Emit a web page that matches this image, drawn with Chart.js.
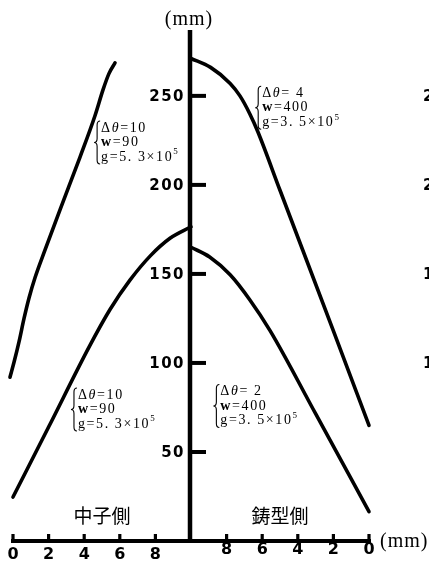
<!DOCTYPE html>
<html lang="ja">
<head>
<meta charset="utf-8">
<title>中子側・鋳型側</title>
<script src="https://cdn.jsdelivr.net/npm/chart.js@4/dist/chart.umd.min.js"></script>
<style>
    html, body { margin: 0; padding: 0; background: #fff; }
    canvas { display: block; }
</style>
</head>
<body>
<canvas id="myChart" width="429" height="564"></canvas>
<script>
/**
 * @fileoverview Profiles on the core side (中子側) and the mould side (鋳型側)
 */

// Both horizontal scales run 0..10 mm from the outer face to the centre line
const CENTER = 10;

// Tick labels
const yTicks = [50, 100, 150, 200, 250];
const xTicksCore = [0, 2, 4, 6, 8];
const xTicksMold = [8, 6, 4, 2, 0];
const nextPanelTicks = [100, 150, 200, 250];

// 中子側 curves (x: mm from the core face, y: mm)
const coreUpperX = [-0.17, 0.06, 0.34, 0.62, 0.9, 1.24, 1.8, 2.64, 3.76, 4.61, 5.06, 5.39, 5.73];
const coreUpperY = [92, 100.5, 112, 125, 136.5, 148, 163.5, 186, 215.5, 239, 253.5, 262.5, 268.5];
const coreLowerX = [0, 2, 4.33, 5.45, 6.57, 7.7, 8.82, 10];
const coreLowerY = [24.7, 64, 110, 130, 146.5, 160, 170, 176.5];

// 鋳型側 curves (d: mm from the mould face, y: mm)
const moldUpperD = [10, 8.9, 7.8, 7.25, 6.7, 6.25, 5.0, 2.0, 0];
const moldUpperY = [271, 266, 257, 250, 240, 230, 197, 118, 65];
const moldLowerD = [10, 8.95, 7.8, 6.7, 5.55, 3.0, 0];
const moldLowerY = [165, 159.5, 149.5, 135.5, 118, 71.5, 16.5];

// Conditions written next to each curve
const noteDTheta = ['10', ' 4', '10', ' 2'];
const noteW = ['90', '400', '90', '400'];
const noteG = ['5. 3', '3. 5', '5. 3', '3. 5'];

const SERIF = '"Liberation Serif", "DejaVu Serif", serif';
const SANS_BOLD = 'bold 15px "DejaVu Sans", sans-serif';

// Utils
const toPoints = (xs, ys) => xs.map((x, i) => ({ x: x, y: ys[i] }));
const moldToX = d => 2 * CENTER - d;

function curve(xs, ys) {
    return {
        data: toPoints(xs, ys),
        showLine: true,
        borderColor: '#000',
        borderWidth: 3.6,
        borderCapStyle: 'round',
        pointRadius: 0,
        cubicInterpolationMode: 'monotone',
        fill: false,
        clip: 8
    };
}

function drawBrace(ctx, x, top, bottom) {
    const mid = (top + bottom) / 2;
    ctx.beginPath();
    ctx.moveTo(x + 3, top);
    ctx.quadraticCurveTo(x, top, x, top + 4);
    ctx.lineTo(x, mid - 4);
    ctx.quadraticCurveTo(x, mid, x - 3, mid);
    ctx.quadraticCurveTo(x, mid, x, mid + 4);
    ctx.lineTo(x, bottom - 4);
    ctx.quadraticCurveTo(x, bottom, x + 3, bottom);
    ctx.stroke();
}

// Draws a line made of runs with their own font and vertical shift
function drawRuns(ctx, runs, x, y) {
    runs.forEach(([text, font, dy]) => {
        ctx.font = font;
        ctx.fillText(text, x, y + (dy || 0));
        x += ctx.measureText(text).width;
    });
}

function drawNote(ctx, i, left, firstLine) {
    const plain = `14px ${SERIF}`;
    const step = 14.5;
    ctx.letterSpacing = '1.6px';
    drawRuns(ctx, [['Δ', plain], ['θ', `italic 14px ${SERIF}`], ['=' + noteDTheta[i], plain]], left, firstLine);
    drawRuns(ctx, [['w', `bold 14px ${SERIF}`], ['=' + noteW[i], plain]], left, firstLine + step);
    drawRuns(ctx, [['g=' + noteG[i] + '×10', plain], ['5', `9px ${SERIF}`, -5]], left, firstLine + 2 * step);
    ctx.letterSpacing = '0px';
    drawBrace(ctx, left - 4, firstLine - 7, firstLine + 2 * step + 7);
}

// Axes, ticks and all text, placed through the chart's scales
const axesPlugin = {
    id: 'centreAxes',
    afterDatasetsDraw(chart) {
        const { ctx, scales: { x, y } } = chart;
        const cx = x.getPixelForValue(CENTER);
        const y0 = y.getPixelForValue(0);
        const yTop = y.getPixelForValue(y.max);

        ctx.save();
        ctx.strokeStyle = '#000';
        ctx.fillStyle = '#000';

        // Centre (vertical) axis
        ctx.lineWidth = 4.5;
        ctx.beginPath();
        ctx.moveTo(cx - 1, yTop);
        ctx.lineTo(cx - 1, y0 + 2);
        ctx.stroke();

        // Base line
        ctx.lineWidth = 4;
        ctx.beginPath();
        ctx.moveTo(x.getPixelForValue(0) - 2, y0);
        ctx.lineTo(x.getPixelForValue(2 * CENTER) + 2, y0);
        ctx.stroke();

        // Base ticks
        ctx.lineWidth = 3.2;
        const xTickPos = xTicksCore.concat(xTicksMold.map(moldToX));
        xTickPos.forEach(v => {
            const px = x.getPixelForValue(v);
            ctx.beginPath();
            ctx.moveTo(px, y0);
            ctx.lineTo(px, y0 - 7);
            ctx.stroke();
        });

        // Height ticks and labels
        ctx.lineWidth = 4;
        ctx.font = SANS_BOLD;
        ctx.letterSpacing = '1.5px';
        ctx.textAlign = 'right';
        ctx.textBaseline = 'middle';
        yTicks.forEach(v => {
            const py = y.getPixelForValue(v);
            ctx.beginPath();
            ctx.moveTo(cx, py);
            ctx.lineTo(cx + 15, py);
            ctx.stroke();
            ctx.fillText(String(v), cx - 6, py + 1);
        });

        // First digits of the neighbouring panel, cut by the edge
        ctx.textAlign = 'left';
        nextPanelTicks.forEach(v => {
            ctx.fillText(String(v), chart.width - 6, y.getPixelForValue(v) + 1);
        });

        // Base labels
        ctx.font = 'bold 16px "DejaVu Sans", sans-serif';
        ctx.letterSpacing = '0px';
        ctx.textAlign = 'center';
        xTicksCore.forEach(v => ctx.fillText(String(v), x.getPixelForValue(v), y0 + 14));
        xTicksMold.forEach(d => ctx.fillText(String(d), x.getPixelForValue(moldToX(d)), y0 + 9));

        // Units
        ctx.font = `20px ${SERIF}`;
        ctx.letterSpacing = '1px';
        ctx.fillText('(mm)', cx - 2, yTop - 10);
        ctx.textAlign = 'left';
        ctx.fillText('(mm)', x.getPixelForValue(2 * CENTER) + 11, y0 + 1);

        // Side names
        ctx.font = '19px "Noto Sans CJK JP", sans-serif';
        ctx.letterSpacing = '0px';
        ctx.textAlign = 'center';
        ctx.fillText('中子側', x.getPixelForValue(5), y.getPixelForValue(14));
        ctx.fillText('鋳型側', x.getPixelForValue(moldToX(5)), y.getPixelForValue(14));

        // Condition notes
        ctx.textAlign = 'left';
        ctx.lineWidth = 1.1;
        drawNote(ctx, 0, x.getPixelForValue(4.95), y.getPixelForValue(232));
        drawNote(ctx, 1, x.getPixelForValue(moldToX(6.0)), y.getPixelForValue(251.5));
        drawNote(ctx, 2, x.getPixelForValue(3.65), y.getPixelForValue(82));
        drawNote(ctx, 3, x.getPixelForValue(moldToX(8.35)), y.getPixelForValue(84));

        ctx.restore();
    }
};

new Chart(document.querySelector('#myChart'), {
    type: 'scatter',
    data: {
        datasets: [
            curve(coreUpperX, coreUpperY),
            curve(coreLowerX, coreLowerY),
            curve(moldUpperD.map(moldToX), moldUpperY),
            curve(moldLowerD.map(moldToX), moldLowerY)
        ]
    },
    options: {
        responsive: false,
        animation: false,
        devicePixelRatio: 1,
        layout: { padding: { left: 13, right: 60, top: 30, bottom: 23 } },
        scales: {
            x: { type: 'linear', min: 0, max: 2 * CENTER, display: false },
            y: { type: 'linear', min: 0, max: 287, display: false }
        },
        plugins: {
            legend: { display: false },
            tooltip: { enabled: false }
        }
    },
    plugins: [axesPlugin]
});
</script>
</body>
</html>
